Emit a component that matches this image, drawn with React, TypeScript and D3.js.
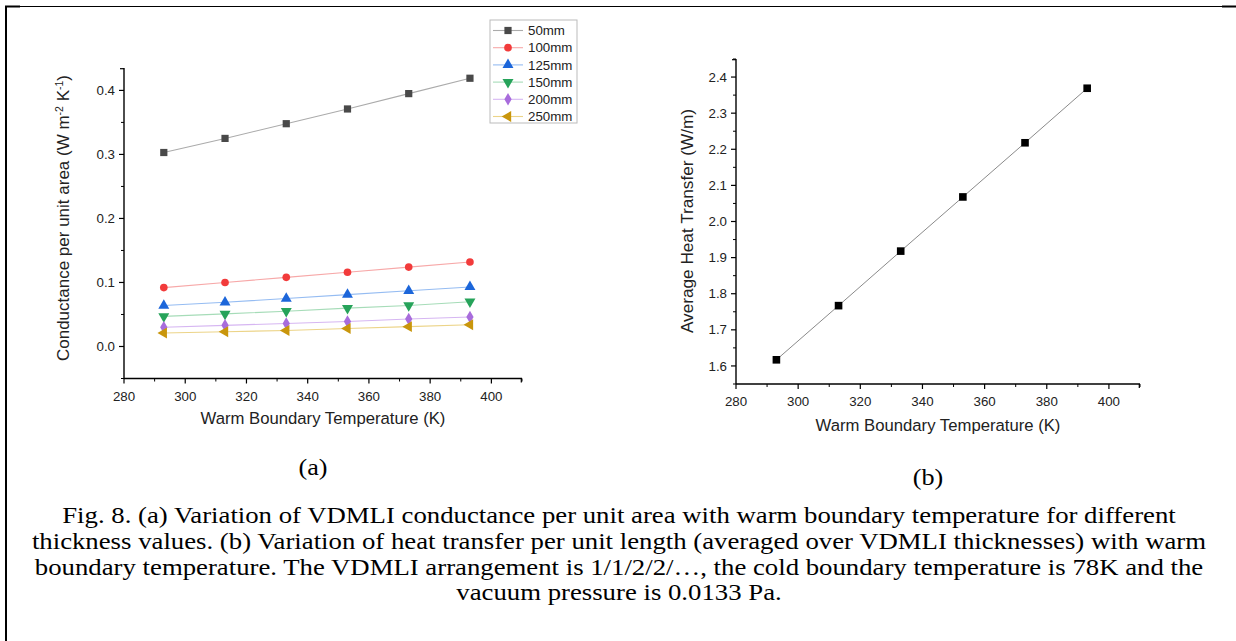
import React from "react";
import * as d3 from "d3";

const temps = [293, 313, 333, 353, 373, 393];
const seriesNames = ["50mm", "100mm", "125mm", "150mm", "200mm", "250mm"];
const s50 = [0.303, 0.325, 0.348, 0.371, 0.395, 0.419];
const s100 = [0.092, 0.100, 0.108, 0.116, 0.124, 0.132];
const s125 = [0.064, 0.069, 0.075, 0.081, 0.087, 0.093];
const s150 = [0.047, 0.051, 0.055, 0.060, 0.064, 0.070];
const s200 = [0.030, 0.033, 0.036, 0.039, 0.043, 0.046];
const s250 = [0.021, 0.023, 0.025, 0.028, 0.031, 0.034];
const avgHeat = [1.617, 1.767, 1.918, 2.068, 2.218, 2.369];

const xTicks = [280, 300, 320, 340, 360, 380, 400];
const yTicksA = [0.0, 0.1, 0.2, 0.3, 0.4];
const yTicksB = [1.6, 1.7, 1.8, 1.9, 2.0, 2.1, 2.2, 2.3, 2.4];

const captionLines = [
  "Fig. 8. (a) Variation of VDMLI conductance per unit area with warm boundary temperature for different",
  "thickness values. (b) Variation of heat transfer per unit length (averaged over VDMLI thicknesses) with warm",
  "boundary temperature. The VDMLI arrangement is 1/1/2/2/…, the cold boundary temperature is 78K and the",
  "vacuum pressure is 0.0133 Pa.",
];

const markerColors = ["#494949", "#f23b3b", "#1c66da", "#26a35a", "#a86cdc", "#c9960c"];
const lineColors = ["#ababab", "#f7a8a8", "#95bcf2", "#a6dcb8", "#d6b6f2", "#ecd488"];
const symbolTypes = [d3.symbolSquare, d3.symbolCircle, d3.symbolTriangle, d3.symbolTriangle, d3.symbolDiamond, d3.symbolTriangle];
const symbolSizes = [52, 46, 52, 52, 46, 52];
const symbolRot = [0, 0, 0, 180, 0, -90];

const sans = "'Liberation Sans', Arial, sans-serif";
const serif = "'Liberation Serif', 'Times New Roman', serif";

function Axes({ x, y, xMajor, xMinor, yMajor, yMinor, yFmt }: any) {
  const [x0, x1] = x.range();
  const [y0, y1] = y.range();
  return (
    <g fontFamily={sans} fontSize={13.3} fill="#222">
      <line x1={x0} x2={x0} y1={y0} y2={y1} stroke="#000" strokeWidth={1.4} />
      <line x1={x0} x2={x1} y1={y0} y2={y0} stroke="#000" strokeWidth={1.4} />
      <line x1={x0} x2={x0 - 4} y1={y1 + 0.7} y2={y1 + 0.7} stroke="#000" strokeWidth={1.2} />
      <line x1={x1 - 0.7} x2={x1 - 0.7} y1={y0} y2={y0 + 4} stroke="#000" strokeWidth={1.2} />
      {xMajor.map((t: number) => (
        <g key={"xm" + t}>
          <line x1={x(t)} x2={x(t)} y1={y0} y2={y0 + 5} stroke="#000" strokeWidth={1.2} />
          <text x={x(t)} y={y0 + 22} textAnchor="middle">{t}</text>
        </g>
      ))}
      {xMinor.map((t: number) => (
        <line key={"xn" + t} x1={x(t)} x2={x(t)} y1={y0} y2={y0 + 3} stroke="#000" strokeWidth={1} />
      ))}
      {yMajor.map((t: number) => (
        <g key={"ym" + t}>
          <line x1={x0} x2={x0 - 5} y1={y(t)} y2={y(t)} stroke="#000" strokeWidth={1.2} />
          <text x={x0 - 9} y={y(t) + 4.6} textAnchor="end">{yFmt(t)}</text>
        </g>
      ))}
      {yMinor.map((t: number) => (
        <line key={"yn" + t} x1={x0} x2={x0 - 3} y1={y(t)} y2={y(t)} stroke="#000" strokeWidth={1} />
      ))}
    </g>
  );
}

export default function App() {
  const allA = [s50, s100, s125, s150, s200, s250];
  const xA = d3.scaleLinear().domain([280, 410]).range([124, 522]);
  const yA = d3.scaleLinear().domain([-0.05, 0.435]).range([378.5, 68]);
  const xB = d3.scaleLinear().domain([280, 410]).range([736, 1140]);
  const yB = d3.scaleLinear().domain([1.55, 2.45]).range([384, 59]);
  const xMinor = d3.range(290, 411, 20);
  const yMinorA = d3.range(-0.05, 0.4, 0.1).map((v) => +v.toFixed(2));
  const yMinorB = d3.range(1.55, 2.46, 0.1).map((v) => +v.toFixed(2));
  const lineA = (vals: number[]) =>
    d3.line<number>().x((_, i) => xA(temps[i])).y((v) => yA(v))(vals) || "";
  const lineB = d3.line<number>().x((_, i) => xB(temps[i])).y((v) => yB(v))(avgHeat) || "";
  const sym = (k: number) => d3.symbol().type(symbolTypes[k]).size(symbolSizes[k])() || "";
  const legX = 490, legY = 20;
  const capScale = 1.164;
  const stretch = (cx: number) => `translate(${cx},0) scale(${capScale},1) translate(${-cx},0)`;

  return (
    <svg width={1236} height={641} style={{ position: "absolute", left: 0, top: 0, background: "#fff" }}>
      <rect x={0} y={0} width={1236} height={641} fill="#fff" />
      {/* frame */}
      <line x1={6} x2={6} y1={6} y2={641} stroke="#000" strokeWidth={2} />
      <line x1={5} x2={1236} y1={6.5} y2={6.5} stroke="#000" strokeWidth={1} />
      <line x1={5} x2={20} y1={6.5} y2={6.5} stroke="#000" strokeWidth={2} />
      <line x1={1222} x2={1236} y1={6.5} y2={6.5} stroke="#000" strokeWidth={2} />

      {/* Panel (a) */}
      <Axes x={xA} y={yA} xMajor={xTicks} xMinor={xMinor} yMajor={yTicksA} yMinor={yMinorA} yFmt={(t: number) => t.toFixed(1)} />
      {allA.map((vals, k) => (
        <path key={"la" + k} d={lineA(vals)} fill="none" stroke={lineColors[k]} strokeWidth={1.1} />
      ))}
      {allA.map((vals, k) =>
        vals.map((v, i) => (
          <path key={"ma" + k + "-" + i} d={sym(k)} fill={markerColors[k]}
            transform={`translate(${xA(temps[i])},${yA(v)}) rotate(${symbolRot[k]})`} />
        ))
      )}
      <text transform={`translate(69,218) rotate(-90)`} textAnchor="middle" fontFamily={sans} fontSize={17} fill="#222">
        Conductance per unit area (W m<tspan dy={-6.5} fontSize={10.5}>-2</tspan><tspan dy={6.5}> K</tspan><tspan dy={-6.5} fontSize={10.5}>-1</tspan><tspan dy={6.5}>)</tspan>
      </text>
      <text x={323} y={424} textAnchor="middle" fontFamily={sans} fontSize={16.7} fill="#222">Warm Boundary Temperature (K)</text>

      {/* legend */}
      <rect x={legX} y={legY} width={87} height={103} fill="#fff" stroke="#bbb" strokeWidth={1} />
      {seriesNames.map((n, k) => {
        const cy = legY + 10.5 + k * 17.2;
        return (
          <g key={"lg" + k}>
            <line x1={legX + 3} x2={legX + 33} y1={cy} y2={cy} stroke={lineColors[k]} strokeWidth={1.1} />
            <path d={sym(k)} fill={markerColors[k]} transform={`translate(${legX + 18},${cy}) rotate(${symbolRot[k]})`} />
            <text x={legX + 38} y={cy + 4.6} fontFamily={sans} fontSize={13.3} fill="#222">{n}</text>
          </g>
        );
      })}

      {/* Panel (b) */}
      <Axes x={xB} y={yB} xMajor={xTicks} xMinor={xMinor} yMajor={yTicksB} yMinor={yMinorB} yFmt={(t: number) => t.toFixed(1)} />
      <path d={lineB} fill="none" stroke="#8a8a8a" strokeWidth={1} />
      {avgHeat.map((v, i) => (
        <rect key={"mb" + i} x={xB(temps[i]) - 3.8} y={yB(v) - 3.8} width={7.6} height={7.6} fill="#000" />
      ))}
      <text transform={`translate(693,221) rotate(-90)`} textAnchor="middle" fontFamily={sans} fontSize={17.2} fill="#222">
        Average Heat Transfer (W/m)
      </text>
      <text x={938} y={431} textAnchor="middle" fontFamily={sans} fontSize={16.7} fill="#222">Warm Boundary Temperature (K)</text>

      {/* captions */}
      <g transform={stretch(313)}>
        <text x={313} y={475} textAnchor="middle" fontFamily={serif} fontSize={22.5} fill="#000">(a)</text>
      </g>
      <g transform={stretch(928)}>
        <text x={928} y={485} textAnchor="middle" fontFamily={serif} fontSize={22.5} fill="#000">(b)</text>
      </g>
      <g transform={stretch(619)}>
        {captionLines.map((l, i) => (
          <text key={"c" + i} x={619} y={523 + i * 25.8} textAnchor="middle" fontFamily={serif} fontSize={23} fill="#000">{l}</text>
        ))}
      </g>
    </svg>
  );
}
